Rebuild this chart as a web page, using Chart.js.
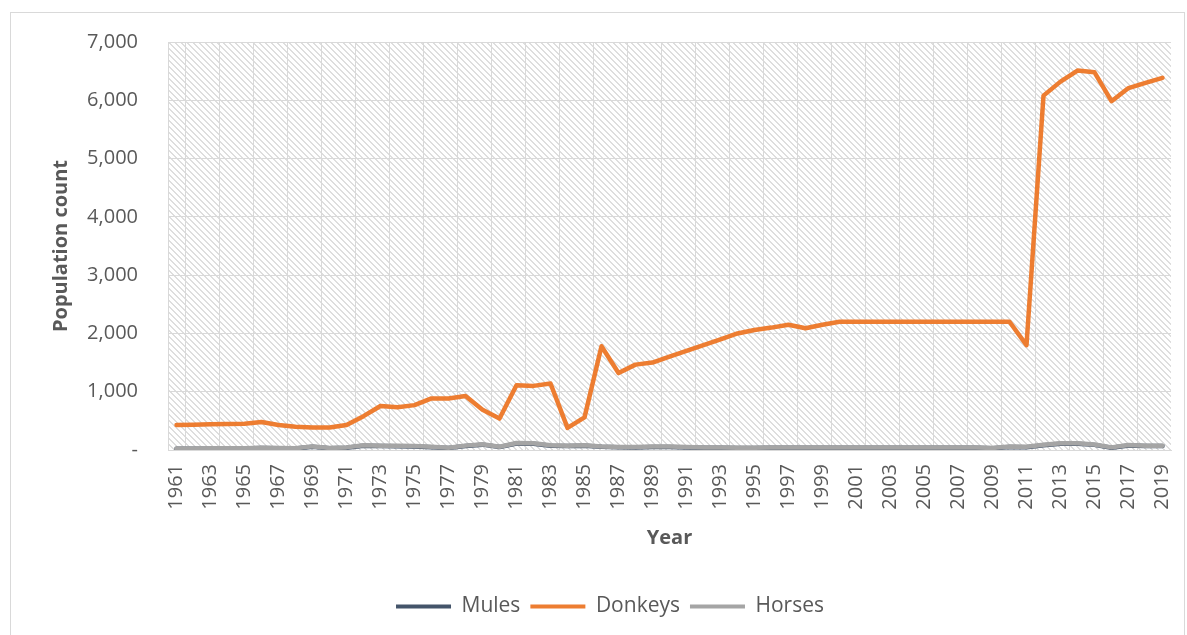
<!DOCTYPE html>
<html>
<head>
<meta charset="utf-8">
<script src="https://cdn.jsdelivr.net/npm/chart.js@4"></script>
<style>
  html, body { margin: 0; padding: 0; background: #fff; }
  #wrap { position: relative; width: 1187px; height: 635px; overflow: hidden; }
  #frame { position: absolute; left: 10px; top: 12px; width: 1175px; height: 700px; border: 1px solid #d9d9d9; box-sizing: border-box; }
  #c { position: absolute; left: 0; top: 0; }
</style>
</head>
<body>
<div id="wrap">
  <div id="frame"></div>
  <canvas id="c" width="1187" height="635"></canvas>
</div>
<script>
// Years 1961-2019
const years = [];
for (let y = 1961; y <= 2019; y++) years.push(String(y));

const mules = [
  20, 22, 23, 25, 27, 33, 30, 25, 55, 30,
  40, 72, 68, 65, 62, 48, 35, 68, 92, 50,
  112, 108, 72, 68, 72, 55, 46, 44, 52, 50,
  44, 40, 37, 35, 35, 37, 40, 40, 40, 40,
  40, 40, 40, 40, 40, 40, 40, 40, 30, 52,
  48, 82, 108, 108, 88, 40, 78, 68, 68
];

const donkeys = [
  430, 435, 440, 445, 450, 480, 430, 400, 385, 385,
  430, 580, 755, 735, 770, 885, 885, 925, 690, 540,
  1110, 1100, 1140, 380, 560, 1780, 1320, 1465, 1500, 1600,
  1700, 1800, 1900, 2000, 2060, 2100, 2150, 2090, 2150, 2200,
  2200, 2200, 2200, 2200, 2200, 2200, 2200, 2200, 2200, 2200,
  1800, 6080, 6320, 6510, 6480, 5985, 6210, 6300, 6385
];

const horses = [
  25, 27, 28, 30, 32, 38, 35, 30, 62, 35,
  45, 80, 75, 72, 70, 55, 40, 75, 100, 55,
  120, 115, 80, 75, 80, 62, 52, 50, 60, 58,
  50, 45, 42, 40, 40, 42, 45, 45, 45, 45,
  45, 45, 45, 45, 45, 45, 45, 45, 35, 60,
  55, 90, 115, 115, 95, 45, 85, 75, 75
];

const yTicks = [0, 1000, 2000, 3000, 4000, 5000, 6000, 7000];

const textColor = '#595959';
const gridColor = '#d9d9d9';
const fontFamily = "'Open Sans', 'Liberation Sans', sans-serif";

// hatched background of the plot area
function makeHatch() {
  const p = document.createElement('canvas');
  p.width = 6; p.height = 6;
  const g = p.getContext('2d');
  g.fillStyle = '#ffffff';
  g.fillRect(0, 0, 6, 6);
  g.fillStyle = '#dedede';
  for (let y = 0; y < 6; y++) {
    g.fillRect(y % 6, y, 1, 1);
    g.fillRect((y + 1) % 6, y, 1, 1);
  }
  return p;
}

const hatchPlugin = {
  id: 'hatch',
  beforeDraw(chart) {
    const { ctx, chartArea: a } = chart;
    ctx.save();
    ctx.fillStyle = ctx.createPattern(makeHatch(), 'repeat');
    ctx.fillRect(a.left, a.top, a.right - a.left, a.bottom - a.top);
    ctx.restore();
  }
};

const ctx = document.getElementById('c').getContext('2d');
new Chart(ctx, {
  type: 'line',
  data: {
    labels: years,
    datasets: [
      { label: 'Mules', data: mules, borderColor: '#44546a', backgroundColor: '#44546a', order: 2 },
      { label: 'Donkeys', data: donkeys, borderColor: '#ed7d31', backgroundColor: '#ed7d31', order: 0 },
      { label: 'Horses', data: horses, borderColor: '#a5a5a5', backgroundColor: '#a5a5a5', order: 1 }
    ]
  },
  options: {
    responsive: false,
    animation: false,
    events: [],
    elements: {
      line: { borderWidth: 4.5, tension: 0, borderCapStyle: 'round', borderJoinStyle: 'round' },
      point: { radius: 0 }
    },
    layout: { padding: { left: 49, top: 42, right: 16, bottom: 8 } },
    scales: {
      x: {
        offset: true,
        grid: {
          offset: true,
          drawTicks: false,
          color: (c) => (c.index === 0 || c.index % 2 === 1) ? gridColor : 'rgba(0,0,0,0)'
        },
        border: { color: gridColor },
        ticks: {
          autoSkip: false,
          maxRotation: 90,
          minRotation: 90,
          padding: 14,
          color: textColor,
          font: { family: fontFamily, size: 20 },
          callback: function (v, i) { return i % 2 === 0 ? this.getLabelForValue(v) : ''; }
        },
        title: {
          display: true,
          text: 'Year',
          color: textColor,
          font: { family: fontFamily, size: 20, weight: 'bold' },
          padding: { top: 0, bottom: 36 }
        },
        afterFit: (s) => { s.height = 136; s.paddingLeft = 0; s.paddingRight = 0; }
      },
      y: {
        min: yTicks[0],
        max: yTicks[yTicks.length - 1],
        afterBuildTicks: (s) => { s.ticks = yTicks.map(v => ({ value: v })); },
        grid: { color: gridColor, drawTicks: false },
        border: { color: gridColor },
        ticks: {
          padding: 30,
          color: textColor,
          font: { family: fontFamily, size: 20 },
          callback: (v) => v === 0 ? '-' : v.toLocaleString('en-US')
        },
        title: {
          display: true,
          text: 'Population count',
          color: textColor,
          font: { family: fontFamily, size: 20, weight: 'bold' },
          padding: { top: 0, bottom: 0 }
        },
        afterFit: (s) => { s.width = 119; }
      }
    },
    plugins: {
      legend: {
        position: 'bottom',
        labels: {
          boxWidth: 55,
          boxHeight: 4,
          padding: 10,
          color: textColor,
          font: { family: fontFamily, size: 21 },
          sort: (a, b) => a.datasetIndex - b.datasetIndex,
          generateLabels: (chart) => chart.data.datasets.map((d, i) => ({
            text: d.label,
            fillStyle: d.borderColor,
            strokeStyle: d.borderColor,
            lineWidth: 0,
            fontColor: textColor,
            datasetIndex: i
          }))
        }
      },
      tooltip: { enabled: false }
    }
  },
  plugins: [hatchPlugin]
});
</script>
</body>
</html>
